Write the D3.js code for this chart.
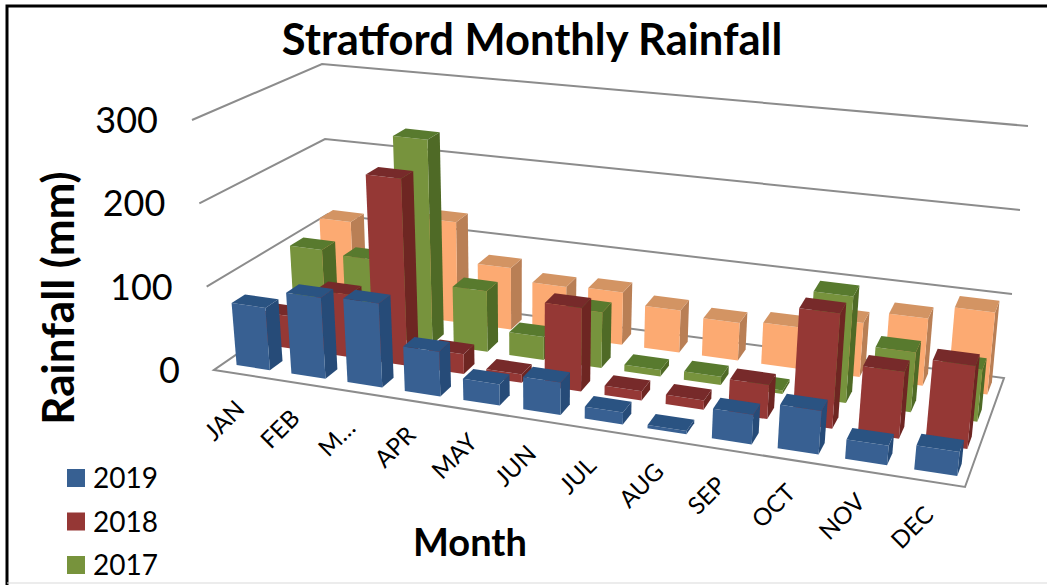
<!DOCTYPE html>
<html>
<head>
<meta charset="utf-8">
<title>Stratford Monthly Rainfall</title>
<script src="https://cdn.jsdelivr.net/npm/d3@7"></script>
<style>
  html, body { margin: 0; padding: 0; background: #fff; }
  svg { display: block; }
  text { font-family: Lato, "Open Sans", sans-serif; fill: #000; }
</style>
</head>
<body>
<svg id="chart" width="1047" height="585"></svg>
<script>
var months = ["JAN", "FEB", "M…", "APR", "MAY", "JUN", "JUL", "AUG", "SEP", "OCT", "NOV", "DEC"];
var seriesNames = ["2019", "2018", "2017", "2016"];
var rain2019 = [75, 97, 100, 53, 25, 38, 14, 4, 34, 50, 22, 27];
var rain2018 = [40, 77, 228, 24, 10, 100, 11, 11, 40, 134, 77, 95];
var rain2017 = [100, 96, 255, 75, 28, 68, 8, 10, 4, 126, 70, 60];
var rain2016 = [112, 100, 128, 78, 63, 65, 52, 46, 50, 65, 80, 97];
var yTicks = [0, 100, 200, 300];

var seriesValues = [rain2019, rain2018, rain2017, rain2016];
var frontColors = ["#376092", "#953735", "#77933c", "#fcaa72"];
var sideColors = ["#264b78", "#6e2524", "#4f6a26", "#b97f55"];
var topColors = ["#2b5282", "#772b2a", "#587a2e", "#d39464"];

var svg = d3.select("#chart");

svg.append("filter").attr("id", "soft").append("feGaussianBlur").attr("stdDeviation", 0.4);

// corners of the plot cube as they land on screen: front left, front right, back right, back left
var floorQuad = [[214, 370], [965, 487], [1004, 378], [331, 289]];
var roofQuad = [[192, 120], [993, 220], [1028, 126], [322, 64]];

// months get wider to the right, this is the foreshortening along the front edge
var foreshorten = 1.15;
function warp(u) { return u / (u + foreshorten * (1 - u)); }

function quadPoint(q, u, v) {
	var f = warp(u);
	var fx = q[0][0] + (q[1][0] - q[0][0]) * f, fy = q[0][1] + (q[1][1] - q[0][1]) * f,
	    bx = q[3][0] + (q[2][0] - q[3][0]) * f, by = q[3][1] + (q[2][1] - q[3][1]) * f;
	return [fx + (bx - fx) * v, fy + (by - fy) * v];
}

var xBand = d3.scaleBand().domain(d3.range(months.length)).range([0, 1]).paddingInner(0.39).paddingOuter(0.195).align(0.6);
var zBand = d3.scaleBand().domain(d3.range(seriesNames.length)).range([0, 1]).paddingInner(0.55).paddingOuter(0.275).align(0.62);
var hScale = d3.scaleLinear().domain([0, 300]).range([0, 1]);

function project(u, v, value) {
	var a = quadPoint(floorQuad, u, v), b = quadPoint(roofQuad, u, v), t = hScale(value);
	return [a[0] + (b[0] - a[0]) * t, a[1] + (b[1] - a[1]) * t];
}
function poly(pts) { return "M" + pts.map(function(p) { return p[0].toFixed(1) + "," + p[1].toFixed(1); }).join("L") + "Z"; }

// gridlines run along the left wall and the back wall, the floor is a closed outline
var grid = svg.append("g").attr("fill", "none").attr("stroke", "#8c8c8c").attr("stroke-width", 2);
yTicks.forEach(function(t) {
	if (t == 0) {
		grid.append("path").attr("d", poly([project(0, 0, 0), project(1, 0, 0), project(1, 1, 0), project(0, 1, 0)]));
	} else {
		grid.append("path").attr("d", "M" + [project(0, 0, t), project(0, 1, t), project(1, 1, t)].join("L"));
	}
});

// back series first, left to right inside a series
var bars = svg.append("g").attr("filter", "url(#soft)");
d3.range(seriesNames.length - 1, -1, -1).forEach(function(s) {
	seriesValues[s].forEach(function(val, m) {
		var u0 = xBand(m), u1 = u0 + xBand.bandwidth(),
		    v0 = zBand(s), v1 = v0 + zBand.bandwidth();
		var g = bars.append("g");
		g.append("path").attr("fill", sideColors[s])
			.attr("d", poly([project(u1, v0, 0), project(u1, v1, 0), project(u1, v1, val), project(u1, v0, val)]));
		g.append("path").attr("fill", frontColors[s])
			.attr("d", poly([project(u0, v0, 0), project(u1, v0, 0), project(u1, v0, val), project(u0, v0, val)]));
		g.append("path").attr("fill", topColors[s])
			.attr("d", poly([project(u0, v0, val), project(u1, v0, val), project(u1, v1, val), project(u0, v1, val)]));
	});
});

// value axis labels sit on the left wall ends
yTicks.forEach(function(t) {
	var p = project(0, 0, t);
	svg.append("text").attr("x", p[0] - 34).attr("y", p[1] + 13)
		.attr("text-anchor", "end").attr("font-size", 36).text(t);
});

// month labels
var labelBand = d3.scaleBand().domain(d3.range(months.length)).range([0, 1]);
months.forEach(function(m, i) {
	var p = project(labelBand(i) + labelBand.bandwidth() / 2, 0, 0);
	svg.append("text")
		.attr("transform", "translate(" + (p[0] - 17) + "," + (p[1] + 46) + ") rotate(-45)")
		.attr("text-anchor", "middle").attr("dy", "0.35em").attr("font-size", 24).text(m);
});

svg.append("text").attr("x", 532).attr("y", 55).attr("text-anchor", "middle")
	.attr("font-size", 43.5).attr("font-weight", "bold").text("Stratford Monthly Rainfall");
svg.append("text").attr("transform", "translate(74,298) rotate(-90)").attr("text-anchor", "middle")
	.attr("font-size", 44).attr("font-weight", "bold").text("Rainfall (mm)");
svg.append("text").attr("x", 470).attr("y", 556).attr("text-anchor", "middle")
	.attr("font-size", 38).attr("font-weight", "bold").text("Month");

// legend, the last entry falls off the frame in the original
var legendY = d3.scalePoint().domain(seriesNames.slice(0, 3)).range([478, 565]);
seriesNames.slice(0, 3).forEach(function(name, i) {
	var y = legendY(name);
	svg.append("rect").attr("x", 67).attr("y", y - 9).attr("width", 18).attr("height", 18).attr("fill", frontColors[i]);
	svg.append("text").attr("x", 93).attr("y", y + 10).attr("font-size", 28).text(name);
});

// frame
svg.append("path").attr("d", "M7,585V6H1047").attr("fill", "none").attr("stroke", "#000").attr("stroke-width", 3);
svg.append("path").attr("d", "M7,583H1047").attr("fill", "none").attr("stroke", "#d9d9d9").attr("stroke-width", 1);
</script>
</body>
</html>
